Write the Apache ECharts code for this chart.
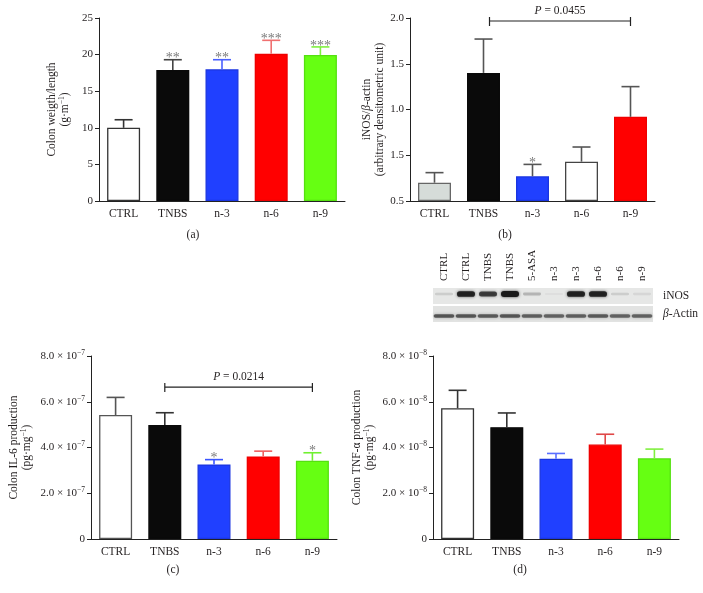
<!DOCTYPE html>
<html>
<head>
<meta charset="utf-8">
<script src="https://cdn.jsdelivr.net/npm/echarts@6/dist/echarts.min.js"></script>
<style>
html,body{margin:0;padding:0;background:#fff;}
#main{width:703px;height:593px;}
</style>
</head>
<body>
<div id="main"></div>
<script>
// ---------- data ----------
const categories = ['CTRL', 'TNBS', 'n-3', 'n-6', 'n-9'];

// (a) colon weight/length
const aMean = [10.0, 17.9, 18.0, 20.1, 19.95];
const aUpper = [11.1, 19.3, 19.3, 21.95, 21.05];
const aSig = ['', '**', '**', '***', '***'];

// (b) iNOS / beta-actin
const bMean = [0.20, 1.40, 0.27, 0.43, 0.92];
const bUpper = [0.31, 1.77, 0.40, 0.59, 1.25];
const bSig = ['', '', '*', '', ''];
const bTickLabels = ['0.5', '1.5', '1.0', '1.5', '2.0'];
const bBracket = [1, 4, 1.967];
const bP = '0.0455';

// (c) IL-6
const cMean = [5.42e-7, 4.98e-7, 3.26e-7, 3.61e-7, 3.42e-7];
const cUpper = [6.19e-7, 5.52e-7, 3.47e-7, 3.84e-7, 3.77e-7];
const cSig = ['', '', '*', '', '*'];
const cBracket = [1, 4, 6.64e-7];
const cP = '0.0214';

// (d) TNF-alpha
const dMean = [5.72e-8, 4.89e-8, 3.51e-8, 4.13e-8, 3.53e-8];
const dUpper = [6.50e-8, 5.51e-8, 3.74e-8, 4.58e-8, 3.93e-8];
const dSig = ['', '', '', '', ''];

// western blot
const lanes = ['CTRL', 'CTRL', 'TNBS', 'TNBS', '5-ASA', 'n-3', 'n-3', 'n-6', 'n-6', 'n-9'];
const blotRows = ['β-Actin', 'iNOS'];
const inosBand = [0.12, 0.92, 0.75, 1.0, 0.22, 0.04, 0.92, 0.92, 0.12, 0.08];
const actinBand = [0.62, 0.62, 0.6, 0.62, 0.58, 0.56, 0.58, 0.6, 0.56, 0.56];

// ---------- styles ----------
const SERIF = 'Liberation Serif';
const TXT = '#231f20';
const fills = {
  a: ['#ffffff', '#0a0a0a', '#2040ff', '#ff0000', '#66ff12'],
  b: ['#d6dcd9', '#0a0a0a', '#2040ff', '#ffffff', '#ff0000'],
  c: ['#ffffff', '#0a0a0a', '#2040ff', '#ff0000', '#66ff12'],
  d: ['#ffffff', '#0a0a0a', '#2040ff', '#ff0000', '#66ff12']
};
const borders = {
  a: ['#333333', '#0a0a0a', '#1a35e0', '#ee0000', '#55e010'],
  b: ['#666666', '#0a0a0a', '#1a35e0', '#444444', '#ee0000'],
  c: ['#555555', '#0a0a0a', '#1a35e0', '#ee0000', '#55e010'],
  d: ['#333333', '#0a0a0a', '#1a35e0', '#ee0000', '#55e010']
};
const errColors = {
  a: ['#333333', '#444444', '#4a60ff', '#f07070', '#80f040'],
  b: ['#555555', '#555555', '#555555', '#555555', '#555555'],
  c: ['#555555', '#333333', '#3a55ff', '#f06060', '#70f030'],
  d: ['#333333', '#333333', '#5a6fff', '#e04848', '#80f040']
};

const grids = [
  {left: 99, top: 18, width: 246, height: 183},
  {left: 410, top: 18, width: 245, height: 183},
  {left: 91, top: 356, width: 246, height: 183},
  {left: 433, top: 356, width: 246, height: 183},
  {left: 433, top: 287, width: 220, height: 36}
].map(g => Object.assign({outerBoundsMode: 'none', containLabel: false}, g));

function sciLabel(exp) {
  return function (v) {
    if (Math.abs(v) < 1e-20) return '{m|0}';
    const m = (v / Math.pow(10, exp)).toFixed(1);
    return '{m|' + m + ' × 10}{e|−' + (-exp) + '}';
  };
}
const sciRich = {
  m: {fontFamily: SERIF, fontSize: 11, color: TXT, lineHeight: 14},
  e: {fontFamily: SERIF, fontSize: 7.5, color: TXT, verticalAlign: 'top', lineHeight: 14}
};
const nameRich = {
  t: {fontFamily: SERIF, fontSize: 11.5, color: TXT, lineHeight: 13},
  it: {fontFamily: SERIF, fontSize: 11.5, color: TXT, fontStyle: 'italic', lineHeight: 13},
  s: {fontFamily: SERIF, fontSize: 7.5, color: TXT, verticalAlign: 'top', lineHeight: 13}
};

function xAxisFor(idx) {
  return {
    type: 'category', gridIndex: idx, data: categories,
    axisLine: {lineStyle: {color: '#222', width: 1}},
    axisTick: {show: false},
    axisLabel: {fontFamily: SERIF, fontSize: 11.5, color: TXT, margin: 7, interval: 0}
  };
}
function yAxisFor(idx, min, max, interval, formatter, rich, name, nameGap) {
  return {
    type: 'value', gridIndex: idx, min: min, max: max, interval: interval,
    splitLine: {show: false},
    axisLine: {show: true, lineStyle: {color: '#222', width: 1}},
    axisTick: {show: true, length: 4, lineStyle: {color: '#222'}},
    axisLabel: {fontFamily: SERIF, fontSize: 11, color: TXT, margin: 6, formatter: formatter, rich: rich},
    name: name, nameLocation: 'middle', nameRotate: 90, nameGap: nameGap,
    nameTextStyle: {rich: nameRich, align: 'center'}
  };
}

function barSeries(idx, means, key) {
  return {
    type: 'bar', xAxisIndex: idx, yAxisIndex: idx, barWidth: 33, z: 2,
    data: means.map((v, i) => ({
      value: v,
      itemStyle: {color: fills[key][i], borderColor: borders[key][i], borderWidth: 1.3}
    })),
    silent: true
  };
}

function errSeries(idx, means, uppers, sig, key) {
  return {
    type: 'custom', xAxisIndex: idx, yAxisIndex: idx, z: 3, silent: true,
    encode: {x: 0, y: [1, 2]},
    data: means.map((m, i) => [i, m, uppers[i], sig[i]]),
    renderItem: function (params, api) {
      const i = api.value(0);
      const base = api.coord([i, api.value(1)]);
      const top = api.coord([i, api.value(2)]);
      const col = errColors[key][params.dataIndex];
      const children = [
        {type: 'line', shape: {x1: base[0], y1: base[1], x2: top[0], y2: top[1]},
         style: {stroke: col, lineWidth: 1.6}},
        {type: 'line', shape: {x1: top[0] - 9, y1: top[1], x2: top[0] + 9, y2: top[1]},
         style: {stroke: col, lineWidth: 1.6}}
      ];
      const s = sig[params.dataIndex];
      if (s) {
        children.push({type: 'text', x: top[0], y: top[1] + 6,
          style: {text: s, fontFamily: SERIF, fontSize: 14, fill: '#7a7a7a',
                  align: 'center', verticalAlign: 'bottom'}});
      }
      return {type: 'group', children: children};
    }
  };
}

function bracketSeries(idx, br, p, dx) {
  return {
    type: 'custom', xAxisIndex: idx, yAxisIndex: idx, z: 4, silent: true,
    encode: {x: [0, 1], y: 2},
    data: [br],
    renderItem: function (params, api) {
      const p1 = api.coord([api.value(0), api.value(2)]);
      const p2 = api.coord([api.value(1), api.value(2)]);
      const x1 = p1[0] + dx, x2 = p2[0], y = p1[1];
      return {type: 'group', children: [
        {type: 'line', shape: {x1: x1, y1: y, x2: x2, y2: y}, style: {stroke: '#222', lineWidth: 1.2}},
        {type: 'line', shape: {x1: x1, y1: y - 4, x2: x1, y2: y + 5}, style: {stroke: '#222', lineWidth: 1.2}},
        {type: 'line', shape: {x1: x2, y1: y - 4, x2: x2, y2: y + 5}, style: {stroke: '#222', lineWidth: 1.2}},
        {type: 'text', x: (x1 + x2) / 2, y: y - 4,
         style: {text: '{i|P} = ' + p, align: 'center', verticalAlign: 'bottom',
                 fontFamily: SERIF, fontSize: 11.5, fill: TXT,
                 rich: {i: {fontFamily: SERIF, fontSize: 11.5, fontStyle: 'italic', fill: TXT}}}}
      ]};
    }
  };
}

const blotStrips = {
  type: 'custom', xAxisIndex: 4, yAxisIndex: 4, z: 1, silent: true,
  data: blotRows.map((r, i) => [0, i]),
  renderItem: function (params, api) {
    const c = api.coord([0, api.value(1)]);
    const h = api.size([0, 1])[1];
    const cs = params.coordSys;
    return {type: 'rect', shape: {x: cs.x, y: c[1] - h / 2 + 1, width: cs.width, height: h - 2},
            style: {fill: api.value(1) === 1 ? '#e6e7e6' : '#e2e3e2'}};
  }
};
const blotBands = {
  type: 'custom', xAxisIndex: 4, yAxisIndex: 4, z: 2, silent: true,
  data: inosBand.map((v, i) => [i, 1, v]).concat(actinBand.map((v, i) => [i, 0, v])),
  renderItem: function (params, api) {
    const c = api.coord([api.value(0), api.value(1)]);
    const isInos = api.value(1) === 1;
    const w = api.size([1, 0])[0] * (isInos ? 0.82 : 0.94);
    const v = api.value(2);
    const h = isInos ? 2 + 4 * v : 3.5;
    const yy = isInos ? c[1] - 2 : c[1] + 2;
    return {type: 'rect', shape: {x: c[0] - w / 2, y: yy - h / 2, width: w, height: h, r: h / 2},
            style: {fill: 'rgba(25,25,25,' + v + ')', shadowBlur: 3, shadowColor: 'rgba(25,25,25,' + (v * 0.8) + ')'}};
  }
};

const option = {
  backgroundColor: '#ffffff',
  animation: false,
  grid: grids,
  xAxis: [
    xAxisFor(0), xAxisFor(1), xAxisFor(2), xAxisFor(3),
    {type: 'category', gridIndex: 4, data: lanes, position: 'top',
     axisLine: {show: false}, axisTick: {show: false},
     axisLabel: {rotate: -90, interval: 0, fontFamily: SERIF, fontSize: 11, color: TXT, margin: 6}}
  ],
  yAxis: [
    yAxisFor(0, 0, 25, 5, v => String(v), null,
      '{t|Colon weigth/length}\n{t|(g·m}{s|−1}{t|)}', 28),
    yAxisFor(1, 0, 2, 0.5, v => bTickLabels[Math.round(v / 0.5)], null,
      '{t|iNOS/}{it|β}{t|-actin}\n{t|(arbitrary densitometric unit)}', 24),
    yAxisFor(2, 0, 8e-7, 2e-7, sciLabel(-7), sciRich,
      '{t|Colon IL-6 production}\n{t|(pg·mg}{s|−1}{t|)}', 58),
    yAxisFor(3, 0, 8e-8, 2e-8, sciLabel(-8), sciRich,
      '{t|Colon TNF-α production}\n{t|(pg·mg}{s|−1}{t|)}', 57),
    {type: 'category', gridIndex: 4, data: blotRows, position: 'right',
     axisLine: {show: false}, axisTick: {show: false},
     axisLabel: {fontFamily: SERIF, fontSize: 11.5, color: TXT, margin: 10,
       formatter: v => v === 'β-Actin' ? '{it|β}{t|-Actin}' : '{t|' + v + '}',
       rich: nameRich}}
  ],
  graphic: [
    {type: 'text', x: 193, y: 235, style: {text: '(a)', fontFamily: SERIF, fontSize: 11.5, fill: TXT, align: 'center', verticalAlign: 'middle'}},
    {type: 'text', x: 505, y: 235, style: {text: '(b)', fontFamily: SERIF, fontSize: 11.5, fill: TXT, align: 'center', verticalAlign: 'middle'}},
    {type: 'text', x: 173, y: 570, style: {text: '(c)', fontFamily: SERIF, fontSize: 11.5, fill: TXT, align: 'center', verticalAlign: 'middle'}},
    {type: 'text', x: 520, y: 570, style: {text: '(d)', fontFamily: SERIF, fontSize: 11.5, fill: TXT, align: 'center', verticalAlign: 'middle'}}
  ],
  series: [
    barSeries(0, aMean, 'a'), errSeries(0, aMean, aUpper, aSig, 'a'),
    barSeries(1, bMean, 'b'), errSeries(1, bMean, bUpper, bSig, 'b'), bracketSeries(1, bBracket, bP, 6),
    barSeries(2, cMean, 'c'), errSeries(2, cMean, cUpper, cSig, 'c'), bracketSeries(2, cBracket, cP, 0),
    barSeries(3, dMean, 'd'), errSeries(3, dMean, dUpper, dSig, 'd'),
    blotStrips, blotBands
  ]
};

const chart = echarts.init(document.getElementById('main'), null, {renderer: 'canvas'});
chart.setOption(option);
</script>
</body>
</html>
